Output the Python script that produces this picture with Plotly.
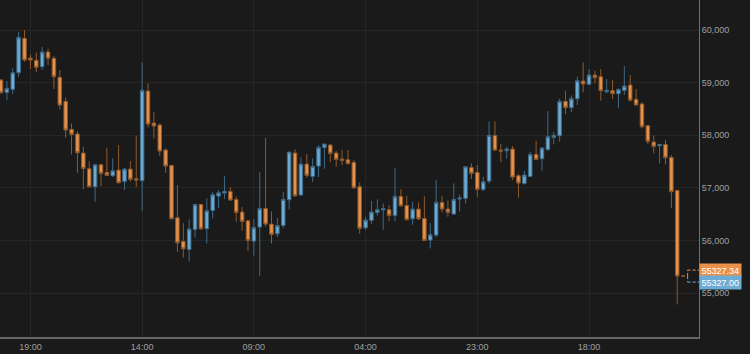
import pandas as pd
import plotly.graph_objects as go

opens = [59050, 58816, 58873, 59189, 59842, 59468, 59424, 59303, 59582, 59462,
         59101, 58645, 58113, 58024, 57663, 57365, 57023, 57441, 57296, 57232,
         57340, 57125, 57359, 57175, 57137, 58841, 58233, 58195, 57720, 57429,
         56434, 55985, 55833, 56213, 56688, 56225, 56574, 56846, 56903, 56935,
         56783, 56542, 56377, 55991, 56257, 56612, 56314, 56130, 56289, 56776,
         57663, 56865, 57454, 57220, 57416, 57771, 57815, 57663, 57549, 57536,
         57486, 57023, 56244, 56385, 56536, 56586, 56586, 56479, 56840, 56669,
         56415, 56599, 56422, 56010, 56105, 56726, 56599, 56504, 56789, 56802,
         57391, 57296, 56973, 57131, 57999, 57720, 57707, 57739, 57232, 57087,
         57220, 57638, 57555, 57733, 57961, 57992, 58645, 58524, 58695, 59031,
         58968, 59145, 59113, 58828, 58847, 58790, 58854, 58955, 58683, 58594,
         58182, 57872, 57802, 57828, 57581, 56954, 55327.34]
highs = [59070, 59031, 59272, 59962, 60000, 59538, 59569, 59677, 59645, 59506,
         59240, 58721, 58227, 58081, 57783, 57505, 57454, 57454, 57764, 57562,
         57815, 57372, 57511, 57992, 59392, 58987, 58442, 58227, 57752, 57435,
         57055, 56333, 56403, 56695, 56695, 56808, 56928, 56960, 57226, 57017,
         56840, 56637, 56385, 56409, 57296, 57954, 56555, 56428, 56922, 57690,
         57733, 57581, 57644, 57562, 57815, 57840, 57834, 57707, 57720, 57720,
         57530, 57106, 56453, 56751, 56783, 56707, 56675, 57378, 56979, 56852,
         56738, 56726, 56840, 56333, 57150, 56852, 56764, 57087, 56878, 57410,
         57467, 57435, 57213, 58265, 58265, 57840, 57783, 57796, 57264, 57321,
         57688, 57897, 57777, 58461, 58068, 58695, 58847, 58759, 59113, 59386,
         59259, 59227, 59259, 59069, 59050, 58892, 59316, 59145, 58879, 58626,
         58190, 57999, 57834, 57910, 57625, 56960, 55327.34]
lows = [58790, 58670, 58784, 59113, 59398, 59259, 59196, 59240, 59335, 58879,
        58493, 57954, 57638, 57289, 56973, 57015, 56738, 57036, 57230, 57213,
        57090, 56960, 57118, 57023, 56567, 58151, 57942, 57606, 57289, 56409,
        55788, 55681, 55598, 56061, 56200, 55947, 56422, 56624, 56789, 56757,
        56358, 56187, 55801, 55706, 55332, 56263, 55947, 56073, 56238, 56593,
        56833, 56860, 57194, 57112, 57207, 57365, 57486, 57403, 57435, 57455,
        56985, 56130, 56200, 56314, 56472, 56206, 56371, 56371, 56643, 56390,
        56301, 56390, 55998, 55852, 56067, 56536, 56453, 56498, 56555, 56707,
        57169, 56833, 56941, 57087, 57701, 57492, 57555, 57150, 56814, 57061,
        57215, 57540, 57327, 57701, 57828, 57878, 58404, 58442, 58575, 58816,
        58965, 58987, 58657, 58797, 58689, 58512, 58765, 58638, 58570, 58132,
        57834, 57657, 57467, 57448, 56624, 54788, 55327.00]
closes = [58809, 58892, 59189, 59861, 59430, 59430, 59291, 59582, 59462, 59113,
          58575, 58100, 58018, 57669, 57372, 57023, 57441, 57277, 57239, 57327,
          57099, 57359, 57163, 57150, 58854, 58214, 58176, 57701, 57416, 56415,
          55959, 55845, 56219, 56688, 56225, 56567, 56871, 56909, 56935, 56770,
          56536, 56365, 56004, 56251, 56612, 56314, 56118, 56289, 56783, 57682,
          56852, 57454, 57239, 57410, 57771, 57834, 57657, 57543, 57524, 57460,
          57004, 56232, 56390, 56542, 56586, 56612, 56479, 56840, 56662, 56396,
          56599, 56415, 56004, 56111, 56726, 56599, 56536, 56783, 56808, 57403,
          57277, 56973, 57118, 57999, 57720, 57701, 57739, 57207, 57093, 57245,
          57638, 57543, 57758, 57973, 57999, 58645, 58524, 58695, 59037, 58974,
          59145, 59094, 58847, 58854, 58790, 58873, 58936, 58670, 58575, 58163,
          57885, 57790, 57828, 57574, 56928, 55327.34, 55327.00]

tick_labels = ["19:00", "14:00", "09:00", "04:00", "23:00", "18:00"]
y_ticks = [55000, 56000, 57000, 58000, 59000, 60000]
last_price_labels = ["55327.34", "55327.00"]
last_price = 55327.0

times = pd.date_range("2021-05-20 14:00", periods=len(opens), freq="h")
tick_vals = list(times[5::19][:len(tick_labels)])

ORANGE = "#E8914A"
BLUE = "#6CACD4"
BG = "#1a1a1a"

fig = go.Figure(go.Candlestick(
    x=times, open=opens, high=highs, low=lows, close=closes,
    increasing=dict(line=dict(color="#3F6A88", width=1), fillcolor=BLUE),
    decreasing=dict(line=dict(color="#8E5A2C", width=1), fillcolor=ORANGE),
    whiskerwidth=0, hoverinfo="skip",
))

hour = pd.Timedelta(hours=1)
x_start = times[0] - 0.17 * hour
x_end = times[0] + 118.7 * hour

fig.update_layout(
    width=750, height=354,
    margin=dict(l=0, r=51, t=0, b=17),
    paper_bgcolor=BG, plot_bgcolor=BG,
    showlegend=False, boxgap=0.15,
    font=dict(family="Liberation Sans, Arial, sans-serif", size=9, color="#a0a0a0"),
    xaxis=dict(
        type="date", range=[x_start, x_end], rangeslider=dict(visible=False),
        tickvals=tick_vals, ticktext=tick_labels, ticks="",
        showgrid=True, gridcolor="#262626", gridwidth=1,
        showline=True, linecolor="#666666", linewidth=2, mirror=False,
        zeroline=False, tickfont=dict(size=9, color="#a0a0a0"),
    ),
    yaxis=dict(
        side="right", range=[54170, 60570], tickvals=y_ticks, tickformat=",",
        ticks="", showgrid=True, gridcolor="#262626", gridwidth=1,
        showline=True, linecolor="#707070", linewidth=1, zeroline=False,
        tickfont=dict(size=9, color="#a0a0a0"),
    ),
)

# last price bracket and labels
last_t = times[-1]
for sign, col in [(1, ORANGE), (-1, BLUE)]:
    fig.add_shape(type="line", xref="x", yref="y", xsizemode="pixel", ysizemode="pixel",
                  xanchor=last_t, yanchor=last_price, x0=4.5, x1=16, y0=6 * sign, y1=6 * sign,
                  line=dict(color=col, width=1, dash="3px,2px"))
    fig.add_shape(type="line", xref="x", yref="y", xsizemode="pixel", ysizemode="pixel",
                  xanchor=last_t, yanchor=last_price, x0=4.5, x1=4.5, y0=0, y1=6 * sign,
                  line=dict(color=col, width=1, dash="3px,2px"))

for text, sign, col in [(last_price_labels[0], 1, ORANGE), (last_price_labels[1], -1, BLUE)]:
    fig.add_annotation(x=1, xref="paper", xanchor="left", y=last_price, yref="y",
                       yshift=6 * sign, text=text, showarrow=False, bgcolor=col,
                       font=dict(color="white", size=9, family="Liberation Sans, Arial, sans-serif"),
                       borderpad=1.5, width=38, align="left")

fig.write_html("out.html")
